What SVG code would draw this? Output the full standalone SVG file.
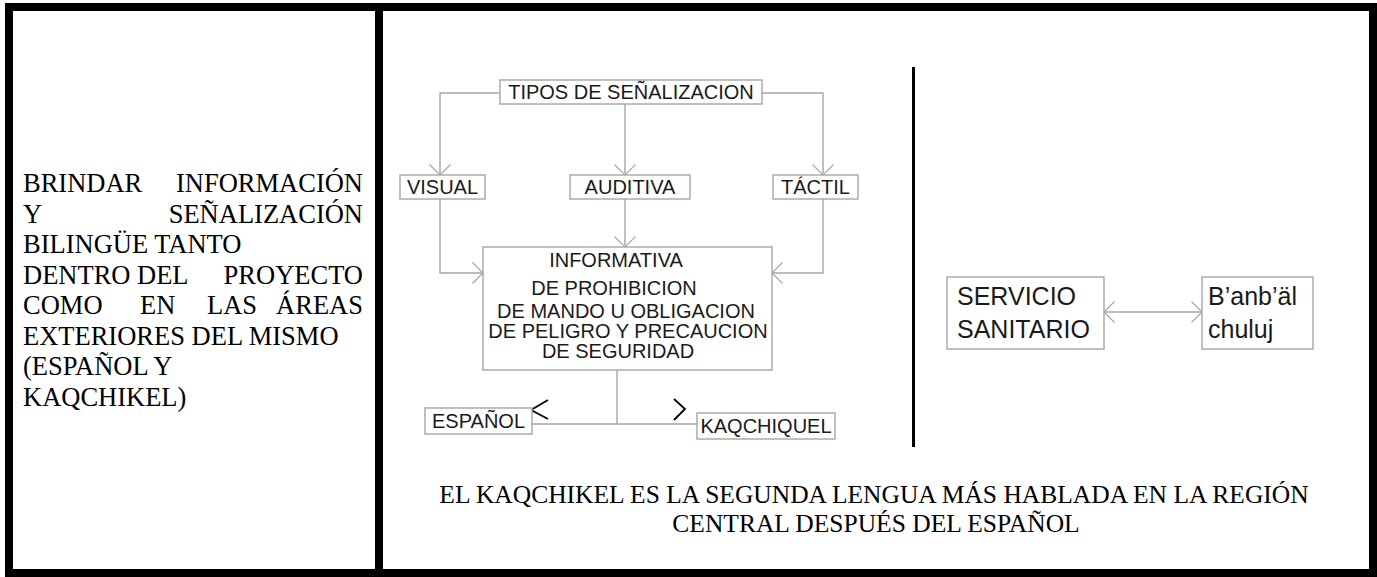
<svg xmlns="http://www.w3.org/2000/svg" width="1377" height="577" viewBox="0 0 1377 577">
<style>
.frame{fill:none;stroke:#000;stroke-width:8}
.box{fill:#fff;stroke:#a6a6a6;stroke-width:1.4}
.con{fill:none;stroke:#a6a6a6;stroke-width:1.4}
.lbl{font-family:"Liberation Sans",Arial,sans-serif;font-size:20px;fill:#1a1a1a}
.big{font-family:"Liberation Sans",Arial,sans-serif;font-size:25px;fill:#1a1a1a}
.serif{font-family:"Liberation Serif","Times New Roman",serif;fill:#000}
.mark{fill:none;stroke:#000;stroke-width:1.8}
</style>
<defs>
<marker id="arr" markerUnits="userSpaceOnUse" viewBox="0 0 12 24" refX="11.5" refY="12" markerWidth="12" markerHeight="24" orient="auto-start-reverse">
<path d="M1,1.5 L11.5,12 L1,22.5" fill="none" stroke="#a6a6a6" stroke-width="1.2"/>
</marker>
</defs>
<rect x="0" y="0" width="1377" height="577" fill="#fff"/>
<g id="frame">
<rect class="frame" x="9" y="7" width="1364" height="566"/>
<line x1="379" y1="7" x2="379" y2="573" stroke="#000" stroke-width="8"/>
<line x1="913.5" y1="67" x2="913.5" y2="447" stroke="#000" stroke-width="3"/>
</g>
<g id="left-text" class="serif" font-size="26.5">
<text y="192"><tspan x="23">BRINDAR</tspan><tspan x="363" text-anchor="end">INFORMACIÓN</tspan></text>
<text y="222.5"><tspan x="23">Y</tspan><tspan x="363" text-anchor="end">SEÑALIZACIÓN</tspan></text>
<text x="23" y="253">BILINGÜE TANTO</text>
<text y="283.5"><tspan x="23">DENTRO</tspan><tspan x="137">DEL</tspan><tspan x="363" text-anchor="end">PROYECTO</tspan></text>
<text y="314"><tspan x="23">COMO</tspan><tspan x="140">EN</tspan><tspan x="207">LAS</tspan><tspan x="363" text-anchor="end">ÁREAS</tspan></text>
<text x="23" y="344.5">EXTERIORES DEL MISMO</text>
<text x="23" y="375">(ESPAÑOL Y</text>
<text x="23" y="405.5">KAQCHIKEL)</text>
</g>
<g id="connectors">
<polyline class="con" points="500,93 440,93 440,175" marker-end="url(#arr)"/>
<polyline class="con" points="762,93 823,93 823,175" marker-end="url(#arr)"/>
<line class="con" x1="625" y1="104" x2="625" y2="175" marker-end="url(#arr)"/>
<line class="con" x1="625" y1="199" x2="625" y2="247" marker-end="url(#arr)"/>
<polyline class="con" points="440,199 440,273 483,273" marker-end="url(#arr)"/>
<polyline class="con" points="823,199 823,273 772,273" marker-end="url(#arr)"/>
<line class="con" x1="617" y1="370" x2="617" y2="424"/>
<line class="con" x1="532" y1="424" x2="697" y2="424"/>
<line class="con" x1="1104" y1="312" x2="1202" y2="312" marker-start="url(#arr)" marker-end="url(#arr)"/>
<polyline class="mark" points="548,400 531,410 548,419"/>
<polyline class="mark" points="674,399 685,409 674,420"/>
</g>
<g id="tipos">
<rect class="box" x="500" y="80" width="262" height="24"/>
<text class="lbl" x="631" y="99" text-anchor="middle">TIPOS DE SEÑALIZACION</text>
</g>
<g id="visual">
<rect class="box" x="400" y="175" width="85" height="24"/>
<text class="lbl" x="442.5" y="194" text-anchor="middle">VISUAL</text>
</g>
<g id="auditiva">
<rect class="box" x="570" y="175" width="120" height="24"/>
<text class="lbl" x="630" y="194" text-anchor="middle">AUDITIVA</text>
</g>
<g id="tactil">
<rect class="box" x="773" y="175" width="85" height="24"/>
<text class="lbl" x="815.5" y="194" text-anchor="middle">TÁCTIL</text>
</g>
<g id="informativa">
<rect class="box" x="483" y="247" width="289" height="123"/>
<text class="lbl" x="616" y="267" text-anchor="middle">INFORMATIVA</text>
<text class="lbl" x="614" y="295" text-anchor="middle">DE PROHIBICION</text>
<text class="lbl" x="626" y="318" text-anchor="middle">DE MANDO U OBLIGACION</text>
<text class="lbl" x="628" y="338" text-anchor="middle">DE PELIGRO Y PRECAUCION</text>
<text class="lbl" x="618" y="358" text-anchor="middle">DE SEGURIDAD</text>
</g>
<g id="espanol">
<rect class="box" x="425" y="408" width="107" height="26"/>
<text class="lbl" x="478.5" y="428" text-anchor="middle">ESPAÑOL</text>
</g>
<g id="kaqchiquel">
<rect class="box" x="697" y="413" width="138" height="26"/>
<text class="lbl" x="766" y="433" text-anchor="middle">KAQCHIQUEL</text>
</g>
<g id="servicio">
<rect class="box" x="947" y="277" width="157" height="72"/>
<text class="big" x="957" y="305">SERVICIO</text>
<text class="big" x="957" y="338">SANITARIO</text>
</g>
<g id="banbal">
<rect class="box" x="1202" y="277" width="111" height="72"/>
<text class="big" x="1208" y="305">B’anb’äl</text>
<text class="big" x="1208" y="338">chuluj</text>
</g>
<g id="bottom-text" class="serif" font-size="25.5" text-anchor="middle">
<text x="874" y="503">EL KAQCHIKEL ES LA SEGUNDA LENGUA MÁS HABLADA EN LA REGIÓN</text>
<text x="876" y="532">CENTRAL DESPUÉS DEL ESPAÑOL</text>
</g>
</svg>
